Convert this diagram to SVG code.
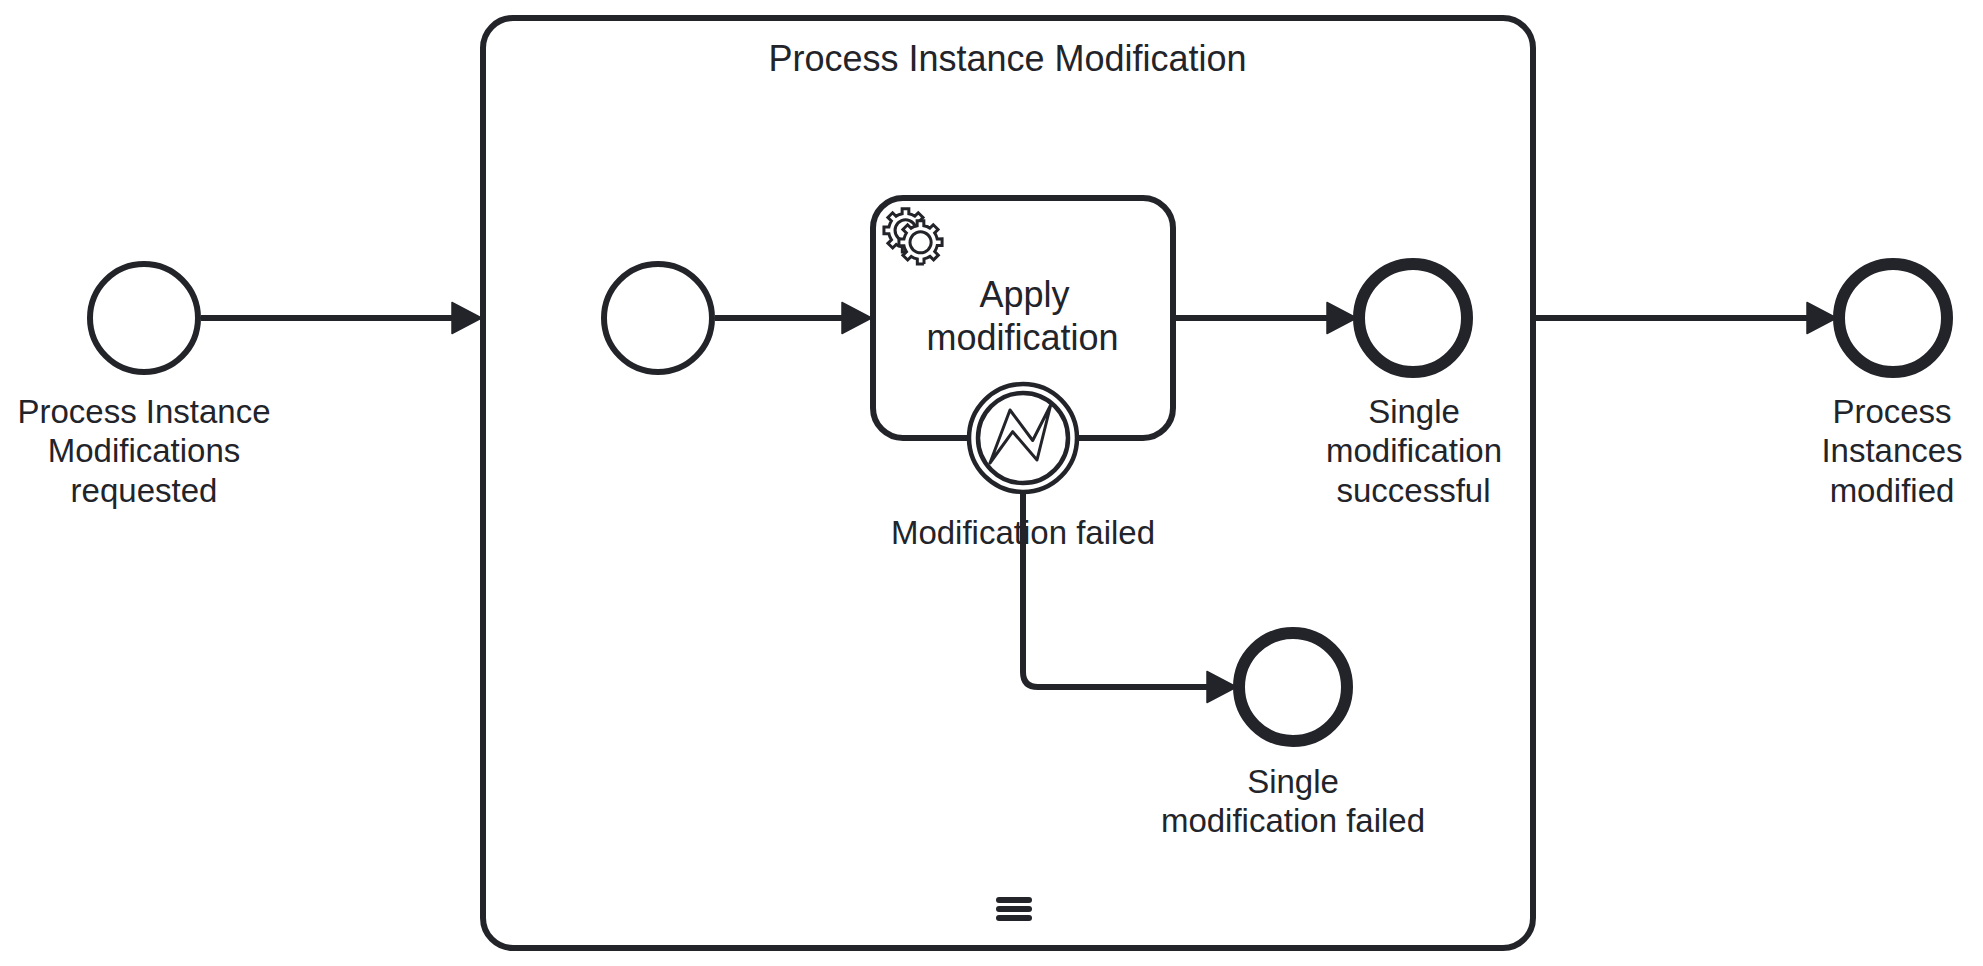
<svg xmlns="http://www.w3.org/2000/svg" xmlns:xlink="http://www.w3.org/1999/xlink" width="1983" height="966" viewBox="0 0 1983 966">
<style>
text{font-family:"Liberation Sans",Arial,sans-serif;font-size:33px;fill:#22242a;text-anchor:middle}
text.big{font-size:36px}
.shape{fill:#fff;stroke:#22242a;stroke-width:6}
.end{fill:#fff;stroke:#22242a;stroke-width:12}
.thin{fill:#fff;stroke:#22242a;stroke-width:4.5}
.flow{fill:none;stroke:#22242a;stroke-width:6;marker-end:url(#arrow)}
.err{fill:#fff;stroke:#22242a;stroke-width:3;stroke-linejoin:round}
.gear{fill:#fff;stroke:#22242a;stroke-width:1}
.bar{stroke:#22242a;stroke-width:6;stroke-linecap:round}
</style>
<defs>
<marker id="arrow" markerUnits="userSpaceOnUse" markerWidth="40" markerHeight="40" viewBox="0 0 40 40" refX="24" refY="20" orient="auto"><path d="M2 4.5L31.500 20L2 35.500Z" fill="#22242a" stroke="#22242a" stroke-width="1.500" stroke-linejoin="round"/></marker>
<path id="gearPath" d="m0,0 v -1.71335 c 0.352326,-0.0705 0.703932,-0.17838 1.047628,-0.32133 0.344416,-0.14465 0.665822,-0.32133 0.966377,-0.52145 l 1.19431,1.18005 1.567487,-1.57688 -1.195028,-1.18014 c 0.403376,-0.61394 0.683079,-1.29908 0.825447,-2.01824 l 1.622133,-0.01 v -2.2196 l -1.636514,0.01 c -0.07333,-0.35153 -0.178319,-0.70024 -0.323564,-1.04372 -0.145244,-0.34406 -0.321407,-0.6644 -0.522735,-0.96217 l 1.131035,-1.13631 -1.583305,-1.56293 -1.129598,1.13589 c -0.614052,-0.40108 -1.302883,-0.68093 -2.022633,-0.82247 l 0.0093,-1.61852 h -2.241173 l 0.0042,1.63124 c -0.353763,0.0736 -0.705369,0.17977 -1.049785,0.32371 -0.344415,0.14437 -0.665102,0.32092 -0.9635006,0.52046 l -1.1698628,-1.15823 -1.5667691,1.5792 1.1684265,1.15669 c -0.4026573,0.61283 -0.68308,1.29797 -0.8247287,2.01713 l -1.6588041,0.003 v 2.22174 l 1.6724648,-0.006 c 0.073327,0.35077 0.1797598,0.70243 0.3242851,1.04472 0.1452428,0.34448 0.3214064,0.6644 0.5227339,0.96066 l -1.1993431,1.19723 1.5840256,1.56011 1.1964668,-1.19348 c 0.6140517,0.40346 1.3028827,0.68232 2.0233517,0.82331 l 7.19e-4,1.69892 h 2.226848 z m 0.221462,-3.9957 c -1.788948,0.7502 -3.8576,-0.0928 -4.6097055,-1.87438 -0.7521065,-1.78321 0.090598,-3.84627 1.8802645,-4.59604 1.78823,-0.74936 3.856881,0.0929 4.608987,1.87437 0.752106,1.78165 -0.0906,3.84612 -1.879546,4.59605 z"/>
</defs>
<g id="Activity_ProcessInstanceModification">
<rect class="shape" x="483" y="18" width="1050" height="930" rx="30" ry="30"/>
<text class="big" x="1007.500" y="71">Process Instance Modification</text>
<line class="bar" x1="999" y1="900" x2="1029" y2="900"/>
<line class="bar" x1="999" y1="909" x2="1029" y2="909"/>
<line class="bar" x1="999" y1="918" x2="1029" y2="918"/>
</g>
<g id="Event_Requested">
<circle class="shape" cx="144" cy="318" r="54"/>
<text x="144" y="423">Process Instance</text>
<text x="144" y="462">Modifications</text>
<text x="144" y="502">requested</text>
</g>
<g id="Event_InnerStart">
<circle class="shape" cx="658" cy="318" r="54"/>
</g>
<g id="Activity_ApplyModification">
<rect class="shape" x="873" y="198" width="300" height="240" rx="30" ry="30"/>
<g transform="translate(873 198) scale(3)">
<use xlink:href="#gearPath" href="#gearPath" class="gear" x="12" y="18"/>
<path d="m17.2,18 c -1.788948,0.7502 -3.8576,-0.0928 -4.6097055,-1.87438 -0.7521065,-1.78321 0.090598,-3.84627 1.8802645,-4.59604 1.78823,-0.74936 3.856881,0.0929 4.608987,1.87437 0.752106,1.78165 -0.0906,3.84612 -1.879546,4.59605 z" fill="#fff"/>
<use xlink:href="#gearPath" href="#gearPath" class="gear" x="17" y="22"/>
</g>
<text class="big" x="1024.500" y="307">Apply</text>
<text class="big" x="1022.500" y="350">modification</text>
</g>
<g id="Event_ModificationSuccessful">
<circle class="end" cx="1413" cy="318" r="54"/>
<text x="1414" y="423">Single</text>
<text x="1414" y="462">modification</text>
<text x="1413.500" y="502">successful</text>
</g>
<g id="Event_SingleFailed">
<circle class="end" cx="1293" cy="687" r="54"/>
<text x="1293" y="793">Single</text>
<text x="1293" y="832">modification failed</text>
</g>
<g id="Event_ProcessInstancesModified">
<circle class="end" cx="1893" cy="318" r="54"/>
<text x="1892" y="423">Process</text>
<text x="1892" y="462">Instances</text>
<text x="1892" y="502">modified</text>
</g>
<g id="Event_ModificationFailed">
<circle class="thin" cx="1023" cy="438" r="54"/>
<circle class="thin" cx="1023" cy="438" r="45"/>
<path class="err" d="M990 463L1010 410L1032.700 440.500L1050.700 405L1037 460L1012.700 431.700Z"/>
<text x="1023" y="544">Modification failed</text>
</g>
<g id="connectors">
<path class="flow" d="M201 318H474"/>
<path class="flow" d="M715 318H864"/>
<path class="flow" d="M1176 318H1349"/>
<path class="flow" d="M1536 318H1829"/>
<path class="flow" d="M1023 494V672Q1023 687 1038 687H1229"/>
</g>
</svg>
